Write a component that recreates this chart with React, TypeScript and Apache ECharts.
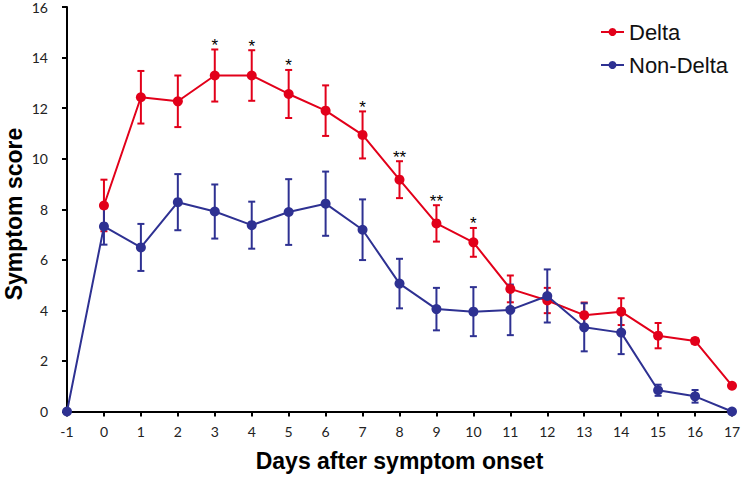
import React, { useEffect, useRef } from "react";
import * as echarts from "echarts";

const deltaDays = [0, 1, 2, 3, 4, 5, 6, 7, 8, 9, 10, 11, 12, 13, 14, 15, 16, 17];
const deltaMean = [8.15, 12.43, 12.27, 13.29, 13.29, 12.56, 11.9, 10.94, 9.17, 7.44, 6.69, 4.85, 4.39, 3.81, 3.95, 3.0, 2.79, 1.02];
const deltaErr = [1.02, 1.04, 1.02, 1.03, 1.0, 0.95, 1.0, 0.93, 0.73, 0.72, 0.57, 0.53, 0.5, 0.5, 0.53, 0.5, 0.12, 0];

const nonDeltaDays = [-1, 0, 1, 2, 3, 4, 5, 6, 7, 8, 9, 10, 11, 12, 13, 14, 15, 16, 17];
const nonDeltaMean = [0, 7.32, 6.49, 8.28, 7.91, 7.37, 7.89, 8.22, 7.19, 5.06, 4.05, 3.95, 4.02, 4.57, 3.33, 3.12, 0.84, 0.6, 0];
const nonDeltaErr = [0, 0.72, 0.93, 1.11, 1.07, 0.93, 1.3, 1.27, 1.2, 0.98, 0.84, 0.97, 1.0, 1.05, 0.95, 0.85, 0.22, 0.25, 0];

const starDays = [3, 4, 5, 7, 8, 9, 10];
const starLabels = ["*", "*", "*", "*", "**", "**", "*"];

const xTitle = "Days after symptom onset";
const yTitle = "Symptom score";

const RED = "#e2001a";
const BLUE = "#2e3192";

function errorData(days: number[], mean: number[], err: number[]) {
  const out: number[][] = [];
  days.forEach((d, i) => {
    if (err[i] > 0) out.push([d, mean[i] - err[i], mean[i] + err[i]]);
  });
  return out;
}

function errorSeries(name: string, data: number[][], color: string) {
  return {
    type: "custom",
    name: name + "-err",
    data,
    encode: { x: 0, y: [1, 2] },
    renderItem: (params: any, api: any) => {
      const x = api.value(0);
      const lo = api.coord([x, api.value(1)]);
      const hi = api.coord([x, api.value(2)]);
      const w = 3.5;
      const st = { stroke: color, lineWidth: 2 };
      return {
        type: "group",
        children: [
          { type: "line", shape: { x1: lo[0], y1: lo[1], x2: hi[0], y2: hi[1] }, style: st },
          { type: "line", shape: { x1: lo[0] - w, y1: lo[1], x2: lo[0] + w, y2: lo[1] }, style: st },
          { type: "line", shape: { x1: hi[0] - w, y1: hi[1], x2: hi[0] + w, y2: hi[1] }, style: st },
        ],
      };
    },
    silent: true,
    z: 1,
  };
}

export default function App() {
  const ref = useRef<HTMLDivElement>(null);
  useEffect(() => {
    if (!ref.current) return;
    const chart = echarts.init(ref.current, null, { renderer: "svg" });
    const starData = starDays.map((d) => {
      const i = deltaDays.indexOf(d);
      return [d, deltaMean[i] + deltaErr[i]];
    });
    const axisLabelStyle = { fontFamily: "Lato", fontSize: 14, color: "#222" };
    chart.setOption({
      animation: false,
      backgroundColor: "#fff",
      grid: { left: 67, right: 16, top: 7, bottom: 65.5, containLabel: false, outerBoundsMode: "none" },
      legend: {
        orient: "vertical",
        left: 600,
        top: 21,
        padding: 0,
        itemWidth: 23,
        itemHeight: 10,
        itemGap: 11,
        data: ["Delta", "Non-Delta"],
        textStyle: { fontFamily: "Liberation Sans", fontSize: 22, color: "#111" },
      },
      graphic: [
        {
          type: "text",
          x: 14,
          y: 214,
          rotation: Math.PI / 2,
          style: {
            text: yTitle,
            font: "bold 23px 'Liberation Sans'",
            fill: "#000",
            align: "center",
            verticalAlign: "middle",
          },
        },
      ],
      xAxis: {
        type: "value",
        min: -1,
        max: 17,
        interval: 1,
        name: xTitle,
        nameLocation: "middle",
        nameGap: 38,
        nameMoveOverlap: false,
        nameTextStyle: { fontFamily: "Liberation Sans", fontSize: 23, fontWeight: "bold", color: "#000" },
        axisLine: { show: true, onZero: false, lineStyle: { color: "#000", width: 2 } },
        axisTick: { show: true, length: 5, lineStyle: { color: "#000", width: 2 } },
        splitLine: { show: false },
        axisLabel: { ...axisLabelStyle, margin: 13 },
      },
      yAxis: {
        type: "value",
        min: 0,
        max: 16,
        interval: 2,
        axisLine: { show: true, onZero: false, lineStyle: { color: "#000", width: 2 } },
        axisTick: { show: true, length: 5, lineStyle: { color: "#000", width: 2 } },
        splitLine: { show: false },
        axisLabel: { ...axisLabelStyle, margin: 19 },
      },
      series: [
        errorSeries("Delta", errorData(deltaDays, deltaMean, deltaErr), RED),
        errorSeries("Non-Delta", errorData(nonDeltaDays, nonDeltaMean, nonDeltaErr), BLUE),
        {
          type: "line",
          name: "Delta",
          data: deltaDays.map((d, i) => [d, deltaMean[i]]),
          symbol: "circle",
          symbolSize: 10,
          itemStyle: { color: RED },
          lineStyle: { color: RED, width: 2 },
          z: 3,
        },
        {
          type: "line",
          name: "Non-Delta",
          data: nonDeltaDays.map((d, i) => [d, nonDeltaMean[i]]),
          symbol: "circle",
          symbolSize: 10,
          itemStyle: { color: BLUE },
          lineStyle: { color: BLUE, width: 2 },
          z: 4,
        },
        {
          type: "custom",
          name: "stars",
          data: starData,
          encode: { x: 0, y: 1 },
          silent: true,
          z: 5,
          renderItem: (params: any, api: any) => {
            const p = api.coord([api.value(0), api.value(1)]);
            return {
              type: "text",
              x: p[0],
              y: p[1] - 4,
              style: {
                text: starLabels[params.dataIndex],
                fill: "#000",
                font: "17px 'Liberation Sans'",
                align: "center",
                verticalAlign: "middle",
              },
            };
          },
        },
      ],
    });
    return () => chart.dispose();
  }, []);
  return (
    <div
      ref={ref}
      style={{ position: "fixed", left: 0, top: 0, width: 748, height: 477, background: "#fff" }}
    />
  );
}
